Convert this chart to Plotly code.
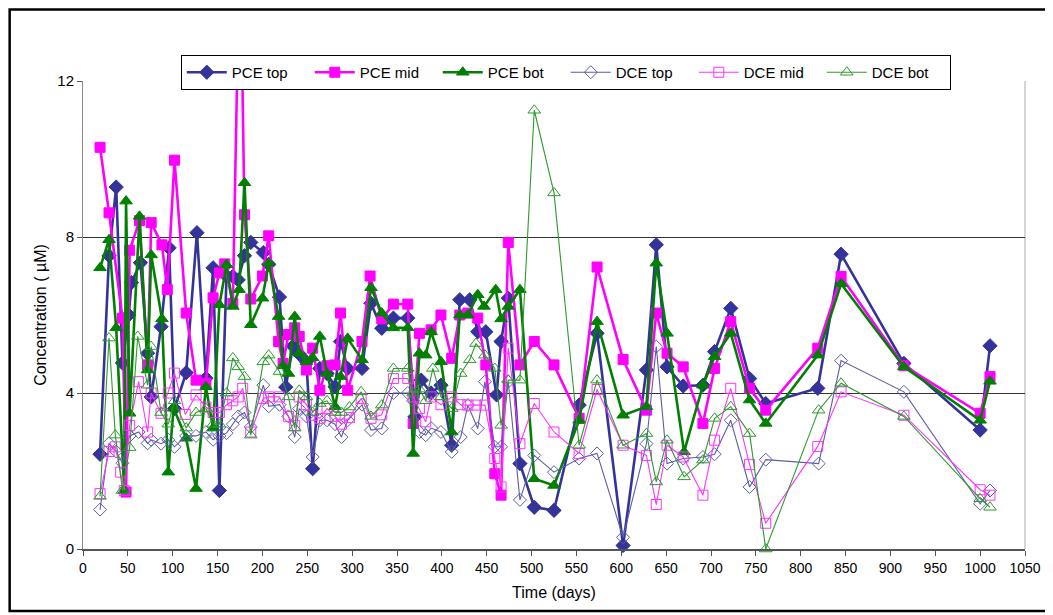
import plotly.graph_objects as go

# sampling days and concentrations (uM)
pce_top_days = [19, 29, 37, 44, 51, 54, 64, 72, 76, 87, 96, 102, 115, 127, 137, 145, 152, 160, 167,
                173, 180, 187, 201, 207, 219, 226, 234, 241, 249, 256, 264, 272, 281, 287, 295, 311,
                321, 333, 346, 362, 370, 377, 388, 399, 411, 420, 431, 440, 449, 461, 466, 474, 487,
                503, 525, 553, 573, 602, 628, 639, 651, 669, 691, 704, 722, 743, 761, 819, 845, 915,
                1000, 1011]
pce_top = [2.43, 7.52, 9.28, 4.77, 6.0, 6.83, 7.34, 5.02, 3.9, 5.7, 7.72, 3.6, 4.52, 8.11, 4.38, 7.21,
           1.5, 7.0, 6.99, 6.9, 7.52, 7.86, 7.6, 7.3, 6.46, 4.15, 5.2, 5.0, 4.8, 2.06, 4.63, 4.5, 4.16,
           5.32, 4.63, 4.63, 6.3, 5.66, 5.92, 5.92, 3.39, 4.33, 4.0, 4.2, 2.66, 6.39, 6.39, 5.57, 5.57,
           3.95, 5.32, 6.43, 2.19, 1.07, 0.99, 3.69, 5.53, 0.09, 4.59, 7.8, 4.67, 4.18, 4.2, 5.06, 6.17,
           4.37, 3.73, 4.12, 7.56, 4.76, 3.05, 5.21]

pce_mid_days = [19, 29, 44, 48, 52, 63, 72, 76, 88, 94, 102, 115, 126, 137, 145, 152, 158, 167, 175,
                180, 187, 200, 207, 218, 223, 229, 236, 241, 249, 256, 264, 272, 281, 287, 295, 311,
                320, 333, 346, 362, 368, 375, 388, 399, 411, 420, 429, 440, 449, 459, 466, 474, 487,
                503, 525, 553, 573, 602, 628, 639, 651, 669, 691, 704, 722, 743, 761, 819, 845, 915,
                1000, 1011]
pce_mid = [10.3, 8.62, 5.92, 1.46, 7.66, 8.42, 4.72, 8.37, 7.8, 6.65, 9.97, 6.05, 4.33, 4.25, 6.44,
           7.08, 7.31, 6.3, 16.0, 8.57, 6.41, 7.0, 8.03, 5.32, 4.76, 5.5, 5.67, 5.45, 4.59, 5.15, 4.07,
           4.7, 4.72, 6.05, 4.07, 5.32, 7.0, 5.9, 6.28, 6.28, 3.22, 5.53, 5.62, 6.0, 4.89, 6.0, 6.05,
           5.92, 4.72, 1.93, 1.38, 7.86, 4.72, 5.32, 4.72, 3.35, 7.23, 4.86, 3.56, 6.05, 5.02, 4.67,
           3.22, 4.63, 5.83, 4.12, 3.56, 5.15, 6.99, 4.7, 3.48, 4.42]

pce_bot_days = [19, 29, 37, 46, 48, 52, 63, 72, 76, 88, 95, 101, 115, 126, 137, 145, 152, 160, 167,
                174, 180, 187, 200, 207, 218, 223, 229, 236, 241, 249, 256, 264, 272, 281, 287, 295,
                311, 321, 333, 346, 362, 368, 375, 382, 388, 399, 411, 420, 429, 440, 447, 460, 466,
                474, 487, 503, 525, 553, 573, 602, 628, 639, 651, 670, 691, 704, 722, 743, 761, 819,
                845, 915, 1000, 1011]
pce_bot = [7.21, 7.93, 5.67, 1.5, 8.92, 3.48, 8.53, 4.59, 7.54, 5.9, 1.97, 3.61, 2.84, 1.55, 4.16,
           3.1, 6.26, 7.29, 6.22, 6.65, 9.39, 5.75, 6.43, 7.33, 5.96, 4.7, 4.5, 5.96, 5.02, 4.8, 4.9,
           5.45, 4.5, 3.65, 4.42, 5.4, 4.85, 6.7, 6.05, 5.67, 5.67, 2.45, 5.02, 4.97, 5.57, 4.8, 3.0,
           6.0, 6.0, 6.52, 6.22, 6.65, 5.9, 6.22, 6.65, 1.8, 1.63, 3.3, 5.83, 3.43, 3.65, 7.33, 5.53,
           2.49, 4.2, 4.93, 5.53, 3.82, 3.22, 4.97, 6.8, 4.67, 3.3, 4.3]

dce_top_days = [19, 29, 37, 44, 52, 62, 72, 76, 87, 95, 102, 115, 126, 137, 145, 152, 160, 167, 173,
                180, 187, 201, 207, 219, 229, 236, 241, 249, 256, 264, 272, 281, 288, 295, 311, 321,
                333, 346, 362, 368, 375, 382, 388, 399, 411, 421, 429, 440, 448, 459, 466, 474, 487,
                503, 525, 553, 573, 602, 628, 639, 651, 669, 691, 704, 722, 743, 761, 820, 845, 915,
                1000, 1011]
dce_top = [1.01, 2.71, 2.5, 2.2, 2.9, 3.0, 2.71, 2.8, 2.7, 2.8, 2.62, 2.9, 2.9, 3.0, 2.8, 2.9, 2.97,
           3.2, 3.4, 3.5, 3.13, 4.2, 3.66, 3.7, 3.4, 2.87, 3.6, 3.4, 2.36, 3.3, 3.3, 3.2, 2.87, 3.3,
           3.7, 3.05, 3.09, 4.0, 4.0, 3.8, 3.0, 2.92, 3.1, 3.0, 2.49, 2.87, 3.69, 3.09, 4.29, 2.62,
           2.62, 4.29, 1.26, 2.4, 1.97, 2.32, 2.45, 0.3, 2.7, 5.19, 2.19, 2.32, 2.36, 2.43, 3.3, 1.59,
           2.29, 2.19, 4.83, 4.03, 1.16, 1.5]

dce_mid_days = [19, 29, 36, 42, 46, 52, 62, 72, 76, 87, 95, 102, 114, 126, 137, 145, 152, 160, 167,
                173, 178, 187, 201, 207, 219, 229, 236, 241, 249, 256, 264, 272, 281, 288, 297, 310,
                321, 333, 346, 362, 368, 375, 382, 388, 399, 411, 421, 429, 438, 448, 459, 466, 474,
                487, 503, 525, 553, 573, 602, 628, 639, 651, 669, 691, 704, 722, 743, 761, 819, 845,
                915, 1000, 1011]
dce_mid = [1.42, 2.5, 2.62, 1.97, 1.5, 3.17, 4.29, 3.0, 4.0, 3.48, 4.0, 4.51, 3.45, 3.95, 3.64, 3.5,
           3.5, 3.7, 3.8, 3.9, 4.12, 3.0, 3.86, 3.9, 3.9, 3.4, 3.17, 3.9, 3.7, 3.43, 3.35, 3.6, 3.4,
           3.2, 3.37, 3.86, 3.35, 3.44, 4.37, 4.37, 3.9, 3.6, 3.26, 3.9, 3.7, 3.9, 3.7, 3.69, 3.69,
           3.69, 2.32, 1.59, 5.15, 2.7, 3.73, 3.0, 2.45, 4.09, 2.66, 2.4, 1.14, 2.66, 2.36, 1.38, 2.79,
           4.12, 2.17, 0.66, 2.63, 4.03, 3.43, 1.52, 1.38]

dce_bot_days = [19, 29, 36, 44, 52, 61, 72, 76, 87, 95, 102, 115, 126, 137, 145, 152, 160, 167, 173,
                180, 187, 201, 207, 219, 229, 236, 241, 249, 256, 264, 272, 281, 288, 297, 310, 321,
                333, 346, 362, 368, 375, 382, 390, 399, 411, 421, 431, 438, 448, 459, 466, 474, 487,
                503, 525, 553, 573, 602, 628, 639, 651, 670, 691, 704, 722, 743, 761, 820, 845, 915,
                1000, 1011]
dce_bot = [1.35, 5.41, 2.92, 1.5, 2.6, 5.45, 4.2, 5.19, 3.5, 3.2, 3.8, 3.1, 3.5, 3.6, 3.2, 3.2, 4.0,
           4.9, 4.67, 4.42, 2.92, 4.8, 4.97, 4.55, 3.9, 3.1, 4.07, 3.9, 3.5, 3.73, 3.8, 3.5, 3.5, 3.64,
           4.03, 3.4, 3.69, 4.63, 4.63, 4.0, 4.1, 3.8, 4.63, 3.9, 3.6, 4.5, 4.85, 5.27, 4.97, 4.63,
           3.17, 4.33, 4.33, 11.25, 9.13, 2.66, 4.33, 2.66, 2.96, 1.72, 2.79, 1.85, 2.28, 3.35, 3.65,
           2.96, 0.0, 3.56, 4.25, 3.4, 1.29, 1.07]

FONT = "Liberation Sans, Arial, sans-serif"
PAGE_OFFSET = 8  # the page body margin shifts the figure by 8 px
W, H = 1045, 607
L, R, T, B = 75, 26, 73, 66


def px_to_paper(x, y):
    # window pixel -> paper coordinates
    x, y = x - PAGE_OFFSET, y - PAGE_OFFSET
    return (x - L) / (W - L - R), (H - B - y) / (H - T - B)


series = [
    ("PCE top", pce_top_days, pce_top, "#333399", 2.6, "diamond", 11),
    ("PCE mid", pce_mid_days, pce_mid, "#ff00ff", 2.6, "square", 10),
    ("PCE bot", pce_bot_days, pce_bot, "#008000", 2.6, "triangle-up", 11),
    ("DCE top", dce_top_days, dce_top, "#5c5ca8", 1.1, "diamond-open", 10),
    ("DCE mid", dce_mid_days, dce_mid, "#ff33ff", 1.1, "square-open", 10),
    ("DCE bot", dce_bot_days, dce_bot, "#2e9a2e", 1.1, "triangle-up-open", 11),
]

fig = go.Figure()
for name, xs, ys, color, width, symbol, size in series:
    fig.add_trace(
        go.Scatter(
            x=xs,
            y=ys,
            mode="lines+markers",
            name=name,
            line={"color": color, "width": width},
            marker={"symbol": symbol, "size": size, "color": color, "line": {"color": color, "width": 1}},
            cliponaxis=False,
        )
    )

x0, y0 = px_to_paper(9.5, 9.5)
x1, y1 = px_to_paper(1050, 611)
lx, ly = px_to_paper(181, 55)

fig.update_layout(
    width=W,
    height=H,
    margin={"l": L, "r": R, "t": T, "b": B},
    paper_bgcolor="white",
    plot_bgcolor="white",
    font={"family": FONT, "size": 14, "color": "black"},
    showlegend=True,
    legend={
        "orientation": "h",
        "x": lx,
        "y": ly,
        "xanchor": "left",
        "yanchor": "top",
        "bgcolor": "white",
        "bordercolor": "black",
        "borderwidth": 1,
        "font": {"size": 15},
        "entrywidth": 73,
        "entrywidthmode": "pixels",
        "itemwidth": 40,
        "tracegroupgap": 0,
    },
    xaxis={
        "range": [0, 1050],
        "dtick": 50,
        "tick0": 0,
        "ticks": "outside",
        "ticklen": 5,
        "tickcolor": "#555555",
        "showgrid": False,
        "zeroline": False,
        "showline": True,
        "linecolor": "#555555",
        "linewidth": 1.5,
        "title": {"text": "Time (days)", "font": {"size": 16}, "standoff": 12},
        "tickfont": {"size": 14},
    },
    yaxis={
        "range": [0, 12],
        "dtick": 4,
        "ticks": "outside",
        "ticklen": 5,
        "tickcolor": "#555555",
        "showgrid": True,
        "gridcolor": "#333333",
        "gridwidth": 1,
        "zeroline": False,
        "showline": True,
        "linecolor": "#888888",
        "linewidth": 1,
        "title": {"text": "Concentration ( \u00b5M)", "font": {"size": 16}, "standoff": 6},
        "tickfont": {"size": 15},
    },
    shapes=[
        {"type": "rect", "xref": "paper", "yref": "paper", "x0": x0, "y0": y0, "x1": x1, "y1": y1,
         "line": {"color": "black", "width": 2.5}, "layer": "below"},
        {"type": "line", "xref": "paper", "yref": "paper", "x0": 1, "y0": 0, "x1": 1, "y1": 1,
         "line": {"color": "#aaaaaa", "width": 1}, "layer": "below"},
    ],
)

fig.write_html("out.html")
